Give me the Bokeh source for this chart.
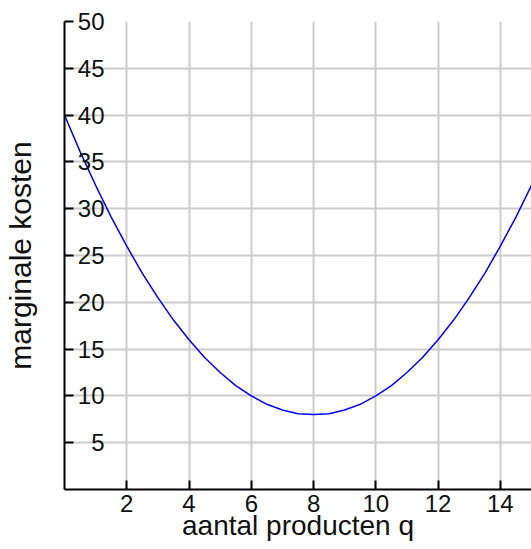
from bokeh.plotting import figure
from bokeh.models import Range1d, FixedTicker
from bokeh.embed import file_html
from bokeh.resources import INLINE

# data
q = [0, 0.5, 1, 1.5, 2, 2.5, 3, 3.5, 4, 4.5, 5, 5.5, 6, 6.5, 7, 7.5,
     8, 8.5, 9, 9.5, 10, 10.5, 11, 11.5, 12, 12.5, 13, 13.5, 14, 14.5, 15]
mk = [40, 36.1, 32.5, 29.1, 26, 23.1, 20.5, 18.1, 16, 14.1, 12.5, 11.1, 10, 9.1, 8.5, 8.1,
      8, 8.1, 8.5, 9.1, 10, 11.1, 12.5, 14.1, 16, 18.1, 20.5, 23.1, 26, 29.1, 32.5]
x_ticks = [2, 4, 6, 8, 10, 12, 14]
y_ticks = [5, 10, 15, 20, 25, 30, 35, 40, 45, 50]
x_label = "aantal producten q"
y_label = "marginale kosten"

FONT = "Liberation Sans"

p = figure(width=531, height=549, output_backend="svg", toolbar_location=None,
           x_range=Range1d(0, 15), y_range=Range1d(0, 50),
           min_border_left=64, min_border_top=21, min_border_right=0, min_border_bottom=60)
p.outline_line_color = None
p.background_fill_color = "white"
p.border_fill_color = "white"

p.line(q, mk, line_color="#0000ff", line_width=1.5)

for ax in (p.xaxis[0], p.yaxis[0]):
    ax.axis_line_color = "black"
    ax.axis_line_width = 2
    ax.major_tick_line_color = "black"
    ax.major_tick_line_width = 2
    ax.major_tick_out = 0
    ax.major_tick_in = 9
    ax.minor_tick_line_color = None
    ax.major_label_text_font = FONT
    ax.major_label_text_font_size = "24px"
    ax.major_label_text_color = "#111111"
    ax.axis_label_text_font = FONT
    ax.axis_label_text_font_style = "normal"
    ax.axis_label_text_color = "#111111"

p.xaxis.ticker = FixedTicker(ticks=x_ticks)
p.yaxis.ticker = FixedTicker(ticks=y_ticks)
p.xaxis.axis_label = x_label
p.yaxis.axis_label = y_label
p.xaxis.axis_label_text_font_size = "28px"
p.yaxis.axis_label_text_font_size = "30px"
p.xaxis.major_label_standoff = 5
p.xaxis.axis_label_standoff = -5
p.yaxis.major_label_standoff = -40
p.yaxis.axis_label_standoff = 38

p.xgrid.ticker = FixedTicker(ticks=x_ticks)
p.ygrid.ticker = FixedTicker(ticks=y_ticks)
for g in (p.xgrid[0], p.ygrid[0]):
    g.grid_line_color = "#cccccc"
    g.grid_line_width = 2

open("out.html", "w").write(file_html(p, INLINE))
